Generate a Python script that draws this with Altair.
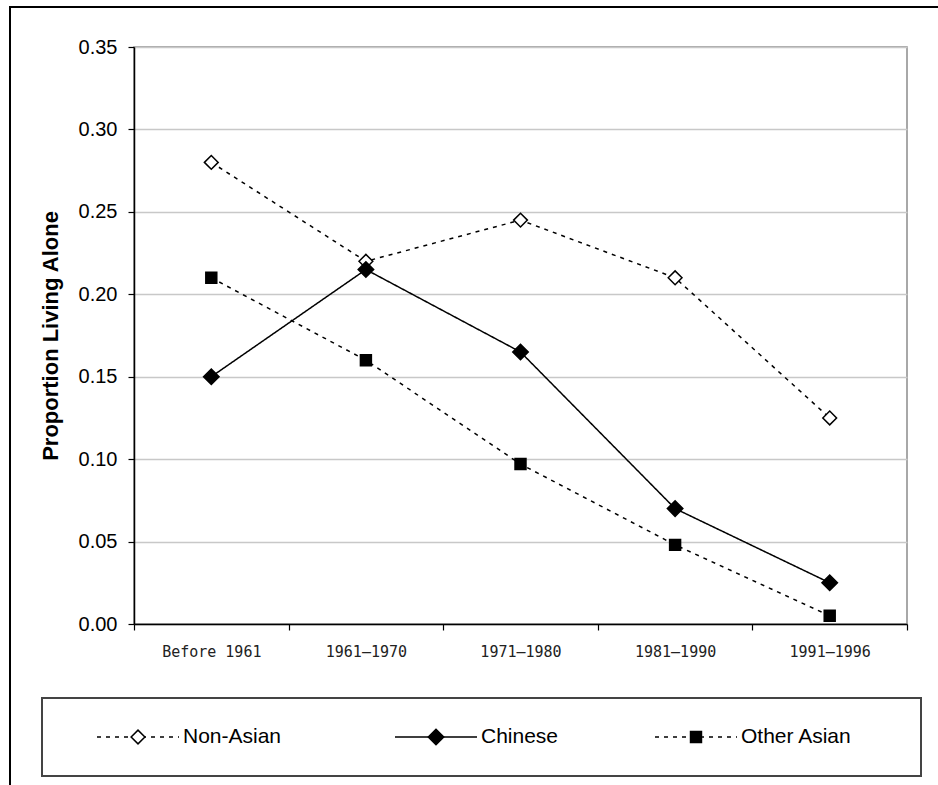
import altair as alt
import pandas as pd

# Period of arrival and proportion of elderly immigrants living alone
periods = ["Before 1961", "1961–1970", "1971–1980", "1981–1990", "1991–1996"]
groups = ["Non-Asian", "Chinese", "Other Asian"]
non_asian = [0.280, 0.220, 0.245, 0.210, 0.125]
chinese = [0.150, 0.215, 0.165, 0.070, 0.025]
other_asian = [0.210, 0.160, 0.097, 0.048, 0.005]

series = dict(zip(groups, [non_asian, chinese, other_asian]))
df = pd.DataFrame(
    [{"period": p, "group": g, "value": v}
     for g, vals in series.items() for p, v in zip(periods, vals)]
)

# layout (pixels)
W, H = 773, 577
PAD_L, PAD_T, PAD_R, PAD_B = 134, 47, 31, 161

styles = {
    "Non-Asian": dict(dash=[4, 5], shape="diamond", fill="white", size=190),
    "Chinese": dict(dash=[1, 0], shape="diamond", fill="black", size=240),
    "Other Asian": dict(dash=[4, 5], shape="square", fill="black", size=120),
}

x_enc = alt.X(
    "period:N",
    sort=periods,
    scale=alt.Scale(type="band", domain=periods, paddingInner=0, paddingOuter=0),
    axis=alt.Axis(
        title=None, labelAngle=0, tickBand="extent", grid=False,
        labelFont="DejaVu Sans Mono", labelFontSize=15, labelColor="#222",
        labelPadding=14, tickSize=6, tickColor="black", domainColor="black",
        domainWidth=1.5, tickWidth=1.2,
    ),
)
y_enc = alt.Y(
    "value:Q",
    scale=alt.Scale(domain=[0, 0.35], nice=False, zero=True),
    axis=alt.Axis(
        title="Proportion Living Alone", values=[0, 0.05, 0.1, 0.15, 0.2, 0.25, 0.3, 0.35],
        format=".2f", labelFont="Liberation Sans", labelFontSize=20, labelColor="black",
        labelPadding=11, tickSize=6, tickColor="black", tickWidth=1.2,
        domainColor="black", domainWidth=1.5,
        grid=True, gridColor="#c8c8c8", gridWidth=1.5,
        titleFont="Liberation Sans", titleFontSize=22, titleFontWeight="bold",
        titleColor="black", titleX=50 - PAD_L, titleY=H / 2, titleAngle=270,
        titleAlign="center", titleBaseline="middle",
    ),
)

layers = []
for g in groups:
    st = styles[g]
    sub = alt.Chart(df).transform_filter(alt.datum.group == g)
    layers.append(
        sub.mark_line(color="black", strokeWidth=1.5, strokeDash=st["dash"]).encode(x=x_enc, y=y_enc)
    )
for g in groups:
    st = styles[g]
    sub = alt.Chart(df).transform_filter(alt.datum.group == g)
    layers.append(
        sub.mark_point(shape=st["shape"], filled=False, fill=st["fill"], fillOpacity=1,
                       stroke="black", strokeWidth=1.5, size=st["size"], opacity=1)
        .encode(x=x_enc, y=y_enc)
    )

# outer frame around the whole figure
frame = alt.Chart(df).mark_rect(fillOpacity=0, stroke="black", strokeWidth=1.8).encode(
    x=alt.value(10 - PAD_L), x2=alt.value(938 + 20 - PAD_L),
    y=alt.value(7 - PAD_T), y2=alt.value(785 + 20 - PAD_T),
)

# legend box below the plot
LEG_Y = 737 - PAD_T
legend_box = alt.Chart(df).mark_rect(fillOpacity=0, stroke="#444", strokeWidth=1.5).encode(
    x=alt.value(42 - PAD_L), x2=alt.value(921 - PAD_L),
    y=alt.value(698 - PAD_T), y2=alt.value(776 - PAD_T),
)
legend_starts = {"Non-Asian": 97, "Chinese": 395, "Other Asian": 655}
SAMPLE = 82
legend_layers = [legend_box]
for g in groups:
    st = styles[g]
    x0 = legend_starts[g] - PAD_L
    one = alt.Chart(pd.DataFrame({"group": [g]}))
    legend_layers.append(
        one.mark_rule(color="black", strokeWidth=1.5, strokeDash=st["dash"]).encode(
            x=alt.value(x0), x2=alt.value(x0 + SAMPLE), y=alt.value(LEG_Y)
        )
    )
    legend_layers.append(
        one.mark_point(shape=st["shape"], filled=False, fill=st["fill"], fillOpacity=1,
                       stroke="black", strokeWidth=1.5, size=st["size"], opacity=1)
        .encode(x=alt.value(x0 + SAMPLE / 2), y=alt.value(LEG_Y))
    )
    legend_layers.append(
        one.mark_text(align="left", baseline="middle", font="Liberation Sans", fontSize=21,
                      color="black").encode(
            x=alt.value(x0 + SAMPLE + 4), y=alt.value(LEG_Y), text="group:N"
        )
    )

chart = alt.layer(frame, *layers, *legend_layers).properties(
    width=W, height=H,
    autosize=alt.AutoSizeParams(type="none"),
    padding={"left": PAD_L, "top": PAD_T, "right": PAD_R, "bottom": PAD_B},
    background="white",
).configure_view(stroke="#8c8c8c", strokeWidth=1.5)

chart.save("out.html", embed_options={"renderer": "svg", "actions": False})
